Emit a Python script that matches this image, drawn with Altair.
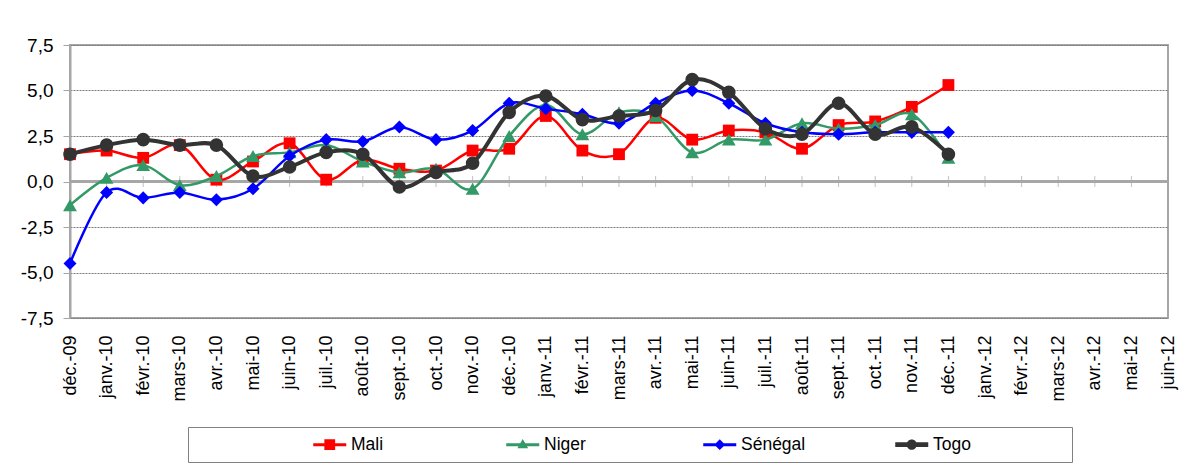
import altair as alt
import pandas as pd

months = ["déc.-09", "janv.-10", "févr.-10", "mars-10", "avr.-10", "mai-10", "juin-10",
          "juil.-10", "août-10", "sept.-10", "oct.-10", "nov.-10", "déc.-10", "janv.-11",
          "févr.-11", "mars-11", "avr.-11", "mai-11", "juin-11", "juil.-11", "août-11",
          "sept.-11", "oct.-11", "nov.-11", "déc.-11", "janv.-12", "févr.-12", "mars-12",
          "avr.-12", "mai-12", "juin-12"]
countries = ["Mali", "Niger", "Sénégal", "Togo"]

mali = [1.5, 1.7, 1.3, 2.0, 0.1, 1.1, 2.1, 0.1, 1.2, 0.7, 0.6, 1.7, 1.8, 3.6, 1.7, 1.5,
        3.5, 2.3, 2.8, 2.7, 1.8, 3.1, 3.3, 4.1, 5.3]
niger = [-1.3, 0.2, 0.9, -0.2, 0.3, 1.4, 1.6, 2.0, 1.1, 0.5, 0.7, -0.4, 2.5, 4.2, 2.6, 3.8,
         3.6, 1.6, 2.3, 2.3, 3.2, 2.9, 3.1, 3.7, 1.3]
senegal = [-4.5, -0.6, -0.9, -0.6, -1.0, -0.4, 1.4, 2.3, 2.2, 3.0, 2.3, 2.8, 4.3, 4.0, 3.7, 3.2,
           4.3, 5.0, 4.3, 3.2, 2.7, 2.6, 2.7, 2.7, 2.7]
togo = [1.5, 2.0, 2.3, 2.0, 2.0, 0.3, 0.8, 1.6, 1.5, -0.3, 0.5, 1.0, 3.8, 4.7, 3.4, 3.6,
        3.9, 5.6, 4.9, 2.9, 2.6, 4.3, 2.6, 3.0, 1.5]
y_ticks = [-7.5, -5.0, -2.5, 0.0, 2.5, 5.0, 7.5]

colors = ["#FF0000", "#339966", "#0000FF", "#333333"]
marker_shapes = ["square", "triangle-up", "diamond", "circle"]
marker_sizes = [140, 190, 170, 185]
line_widths = [2.5, 2.5, 2.5, 4]

# legend symbols: line segment + marker (+ invisible point that sets the entry width)
legend_paths = [
    "M-1,-0.25 H4.5 V0.25 H-1 Z M0.85,-0.9 H2.65 V0.9 H0.85 Z M29.0,0 L29.0,0.01",
    "M-1,-0.25 H4.5 V0.25 H-1 Z M1.75,-0.95 L2.65,0.6 L0.85,0.6 Z M29.67,0 L29.67,0.01",
    "M-1,-0.25 H4.5 V0.25 H-1 Z M1.75,-0.9 L2.65,0 L1.75,0.9 L0.85,0 Z M28.83,0 L28.83,0.01",
    "M-1,-0.38 H4.5 V0.38 H-1 Z M0.9,0 A0.85,0.85 0 1,1 2.6,0 A0.85,0.85 0 1,1 0.9,0 Z M26.9,0 L26.9,0.01",
]

series = [mali, niger, senegal, togo]
rows = []
for c, vals in zip(countries, series):
    for m, v in zip(months, vals):
        rows.append({"Pays": c, "Mois": m, "Valeur": v})
df = pd.DataFrame(rows)

FONT = "Liberation Sans"

x_axis = alt.Axis(labelAngle=270, labelAlign="right", labelBaseline="middle", labelPadding=17,
                  ticks=False, domain=False, grid=False, title=None, labelFontSize=18,
                  labelFont=FONT, labelColor="black", labelOverlap=False)
y_axis = alt.Axis(values=y_ticks, title=None, grid=True, gridDash=[2, 1], gridColor="#7A7A7A",
                  gridWidth=1, tickColor="#A6A6A6", tickSize=7, domainColor="#A6A6A6",
                  domainWidth=2, labelFontSize=19, labelFont=FONT, labelColor="black",
                  labelPadding=10,
                  labelExpr="replace(replace(format(datum.value, '.1f'), '.', ','), '\u2212', '-')")

xenc = alt.X("Mois:N", scale=alt.Scale(domain=months, type="point", padding=0), axis=x_axis)
yenc = alt.Y("Valeur:Q", scale=alt.Scale(domain=[-7.5, 7.5], nice=False, zero=False), axis=y_axis)

zero_df = pd.DataFrame({"Mois": months, "Valeur": [0.0] * len(months)})
zero_rule = alt.Chart(zero_df).mark_rule(color="#A6A6A6", strokeWidth=1.5).encode(y=yenc)
zero_ticks = alt.Chart(zero_df).mark_tick(orient="vertical", size=11, thickness=1,
                                          color="#A6A6A6").encode(x=xenc, y=yenc)

layers = [zero_rule, zero_ticks]
for c, col, shp, sz, lw in zip(countries, colors, marker_shapes, marker_sizes, line_widths):
    base = alt.Chart(df).transform_filter(alt.datum.Pays == c)
    layers.append(base.mark_line(color=col, strokeWidth=lw, interpolate="cardinal", tension=0)
                  .encode(x=xenc, y=yenc))
    layers.append(base.mark_point(color=col, shape=shp, size=sz, filled=True, opacity=1)
                  .encode(x=xenc, y=yenc))

leg = alt.Legend(title="\u00a0", titleOrient="left", titlePadding=114, titleFontSize=10,
                 orient="none", legendX=118, legendY=382, direction="horizontal", columns=4,
                 gridAlign="each", columnPadding=10, symbolSize=144, symbolStrokeWidth=0,
                 symbolOpacity=1, labelFontSize=17.5, labelFont=FONT, labelColor="black",
                 labelOffset=23, padding=8.5, strokeColor="#808080")

legend_layer = alt.Chart(df).transform_filter("false").mark_point(filled=True).encode(
    x=xenc, y=yenc,
    color=alt.Color("Pays:N", scale=alt.Scale(domain=countries, range=colors), legend=leg),
    shape=alt.Shape("Pays:N", scale=alt.Scale(domain=countries, range=legend_paths), legend=leg),
)
layers.append(legend_layer)

chart = alt.layer(*layers).properties(
    width=1098, height=273,
    autosize=alt.AutoSizeParams(type="none"),
    padding={"left": 62, "top": 37, "right": 12, "bottom": 150},
    background="white",
).configure_view(stroke="#A6A6A6", strokeWidth=2)

chart.save("out.html", embed_options={"renderer": "svg", "actions": False})
